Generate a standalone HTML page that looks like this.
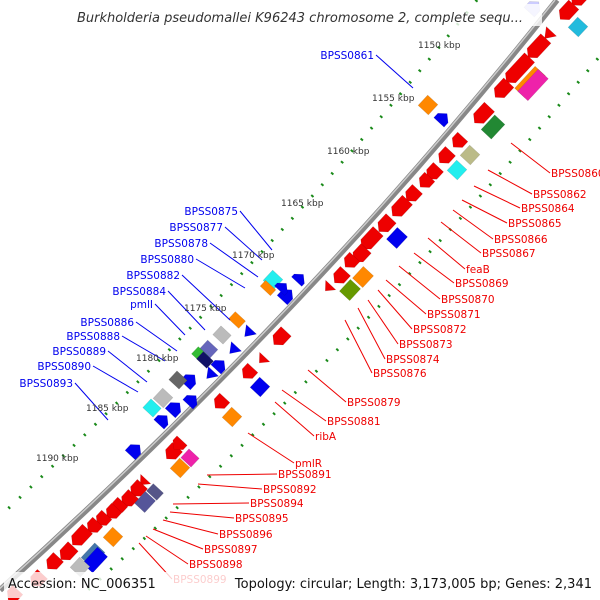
<!DOCTYPE html>
<html><head><meta charset="utf-8"><style>
body{margin:0;background:#fff;width:600px;height:600px;overflow:hidden;font-family:"DejaVu Sans","Liberation Sans",sans-serif}
svg{display:block}
</style></head><body>
<svg id="map" width="600" height="600" viewBox="0 0 600 600">
<defs>
<linearGradient id="bb" x1="0" y1="0" x2="1" y2="1"><stop offset="0" stop-color="#ddd"/><stop offset="0.5" stop-color="#777"/><stop offset="1" stop-color="#ccc"/></linearGradient>
</defs>
<path d="M477,0 Q235.5,305 -80,590" fill="none" stroke="#1a8a1a" stroke-width="3" stroke-dasharray="2 13"/>
<path d="M645,0 Q403.5,305 88,590" fill="none" stroke="#1a8a1a" stroke-width="3" stroke-dasharray="2 13"/>
<path d="M557,0 Q315.5,305 0,590" fill="none" stroke="#888" stroke-width="6"/>
<path d="M555,0 Q313.5,305 -2,590" fill="none" stroke="#ccc" stroke-width="1.5"/>
<g id="genes"></g>
<g id="lines"></g>
<g id="labels" font-size="10.5"></g>
<g id="kbp" font-size="9" fill="#333"></g>
<rect x="58" y="4" width="484" height="22" fill="#fff" opacity="0.8"/>
<text x="300" y="22" text-anchor="middle" font-size="13" font-style="italic" fill="#333" font-family="DejaVu Sans, sans-serif">Burkholderia pseudomallei K96243 chromosome 2, complete sequ...</text>
<rect x="4" y="572" width="592" height="26" fill="#fff" opacity="0.8"/>
<text x="8" y="588" font-size="13" fill="#111">Accession: NC_006351</text>
<text x="592" y="588" font-size="13" fill="#111" text-anchor="end">Topology: circular; Length: 3,173,005 bp; Genes: 2,341</text>
</svg>
<script>
const NS='http://www.w3.org/2000/svg';
// genes: x, y, color, kind (r = red arrow down-left, b = blue arrow up-right, box), length
const geneX=[577,567,578,548,537,518,530,533,502,482,493,458,470,445,457,433,425,412,400,385,397,370,360,350,340,363,350,328,280,262,248,260,220,232,172,178,190,180,143,137,155,145,128,118,112,102,93,80,113,67,53,93,95,80,37,13,534,428,443,300,273,268,287,283,237,248,222,208,200,205,220,233,210,190,178,163,152,175,163,192,135];
const geneY=[0,12,27,35,48,70,82,85,90,115,127,142,155,157,170,173,182,195,208,225,238,240,255,262,277,277,290,288,338,360,373,387,403,417,453,445,458,468,482,490,492,502,500,507,513,520,527,537,537,553,563,555,560,567,580,595,7,105,118,278,280,288,295,287,320,333,335,350,355,360,365,350,375,380,380,398,408,408,420,400,450];
const geneC=['#e00','#e00','#2bd','#e00','#e00','#e00','#f80','#e2a','#e00','#e00','#283','#e00','#bb8','#e00','#2ee','#e00','#e00','#e00','#e00','#e00','#00e','#e00','#e00','#e00','#e00','#f80','#690','#e00','#e00','#e00','#e00','#00e','#e00','#f80','#e00','#e00','#e2a','#f80','#e00','#e00','#558','#559','#e00','#e00','#e00','#e00','#e00','#e00','#f80','#e00','#e00','#47a','#00e','#bbb','#e00','#e00','#ccf','#f80','#00e','#00e','#2ee','#f80','#00e','#00e','#f80','#00e','#bbb','#66b','#3b3','#116','#00e','#00e','#00e','#00e','#666','#bbb','#2ee','#00e','#00e','#00e','#00e'];
const geneK=['r','r','x','t','r','r','x','x','r','r','x','r','x','r','x','r','r','r','r','r','x','r','r','r','r','x','x','t','r','t','r','x','r','x','r','r','x','x','t','r','x','x','r','r','r','r','r','r','x','r','r','x','x','x','r','r','b','x','b','b','x','x','b','b','x','t','x','x','x','x','b','t','t','b','x','x','x','b','b','b','b'];
const geneL=[14,20,14,10,26,34,30,30,20,22,20,14,14,16,14,16,14,16,22,18,16,24,18,14,16,16,16,8,18,8,14,14,14,14,16,12,12,14,8,16,10,16,16,14,14,14,14,22,14,18,16,20,22,14,16,14,14,14,12,10,14,8,14,10,10,10,12,14,10,10,12,10,10,14,12,14,12,14,12,12,14];
const gg=document.getElementById('genes');
for(let i=0;i<geneX.length;i++){
  const g=document.createElementNS(NS,'g');
  g.setAttribute('transform','translate('+geneX[i]+','+geneY[i]+') rotate(-47)');
  const p=document.createElementNS(NS,'polygon');
  const L=geneL[i]/2,W=7,k=geneK[i];
  let pts;
  if(k==='r') pts=[[L,-W],[-L+6,-W],[-L,0],[-L+6,W],[L,W]];
  else if(k==='b') pts=[[-L,-W],[L-6,-W],[L,0],[L-6,W],[-L,W]];
  else if(k==='t') pts=[[L,-W],[L,W],[-L,0]];
  else pts=[[-L,-W],[L,-W],[L,W],[-L,W]];
  p.setAttribute('points',pts.map(a=>a.join(',')).join(' '));
  p.setAttribute('fill',geneC[i]);
  p.setAttribute('stroke','rgba(0,0,0,0.15)');
  p.setAttribute('stroke-width','0.5');
  
  
  g.appendChild(p);gg.appendChild(g);
}
// labels
const redNames=['BPSS0860','BPSS0862','BPSS0864','BPSS0865','BPSS0866','BPSS0867','feaB','BPSS0869','BPSS0870','BPSS0871','BPSS0872','BPSS0873','BPSS0874','BPSS0876','BPSS0879','BPSS0881','ribA','pmlR','BPSS0891','BPSS0892','BPSS0894','BPSS0895','BPSS0896','BPSS0897','BPSS0898','BPSS0899'];
const redLX=[550,532,520,507,493,481,465,454,440,426,412,398,385,372,346,326,314,294,277,262,249,234,218,203,188,172];
const redLY=[177,198,212,227,243,257,273,287,303,318,333,348,363,377,406,425,440,467,478,493,507,522,538,553,568,583];
const redSX=[511,488,474,462,453,441,428,414,399,386,378,368,358,345,308,282,275,248,207,198,173,170,163,153,146,139];
const redSY=[143,170,186,200,210,222,238,253,266,280,290,300,308,320,370,390,402,433,475,484,504,512,520,529,536,543];
const blueNames=['BPSS0861','BPSS0875','BPSS0877','BPSS0878','BPSS0880','BPSS0882','BPSS0884','pmlI','BPSS0886','BPSS0888','BPSS0889','BPSS0890','BPSS0893'];
const blueLX=[376,240,225,210,196,182,168,155,136,122,108,93,75];
const blueLY=[59,215,231,247,263,279,295,308,326,340,355,370,387];
const blueEX=[413,272,262,258,245,230,205,185,177,165,147,138,108];
const blueEY=[88,250,260,277,288,320,330,335,351,361,382,392,420];
const lg=document.getElementById('lines'),lb=document.getElementById('labels');
function line(x1,y1,x2,y2,c){const l=document.createElementNS(NS,'line');l.setAttribute('x1',x1);l.setAttribute('y1',y1);l.setAttribute('x2',x2);l.setAttribute('y2',y2);l.setAttribute('stroke',c);l.setAttribute('stroke-width','1');


lg.appendChild(l);}
function txt(x,y,s,c,anchor){const t=document.createElementNS(NS,'text');t.setAttribute('x',x);t.setAttribute('y',y);t.setAttribute('fill',c);t.setAttribute('text-anchor',anchor);t.textContent=s;


lb.appendChild(t);}
redNames.forEach((n,i)=>{line(redSX[i],redSY[i],redLX[i],redLY[i]-4,'#e00');txt(redLX[i]+1,redLY[i],n,'#e00','start');});
blueNames.forEach((n,i)=>{line(blueLX[i],blueLY[i]-4,blueEX[i],blueEY[i],'#00e');txt(blueLX[i]-2,blueLY[i],n,'#00e','end');});
// kbp
const kbpVals=[1150,1155,1160,1165,1170,1175,1180,1185,1190];
const kbpX=[418,372,327,281,232,184,136,86,36];
const kbpY=[48,101,154,206,258,311,361,411,461];
const kg=document.getElementById('kbp');
kbpVals.forEach((v,i)=>{const t=document.createElementNS(NS,'text');t.setAttribute('x',kbpX[i]);t.setAttribute('y',kbpY[i]);t.textContent=v+' kbp';


kg.appendChild(t);});
</script>
</body></html>
